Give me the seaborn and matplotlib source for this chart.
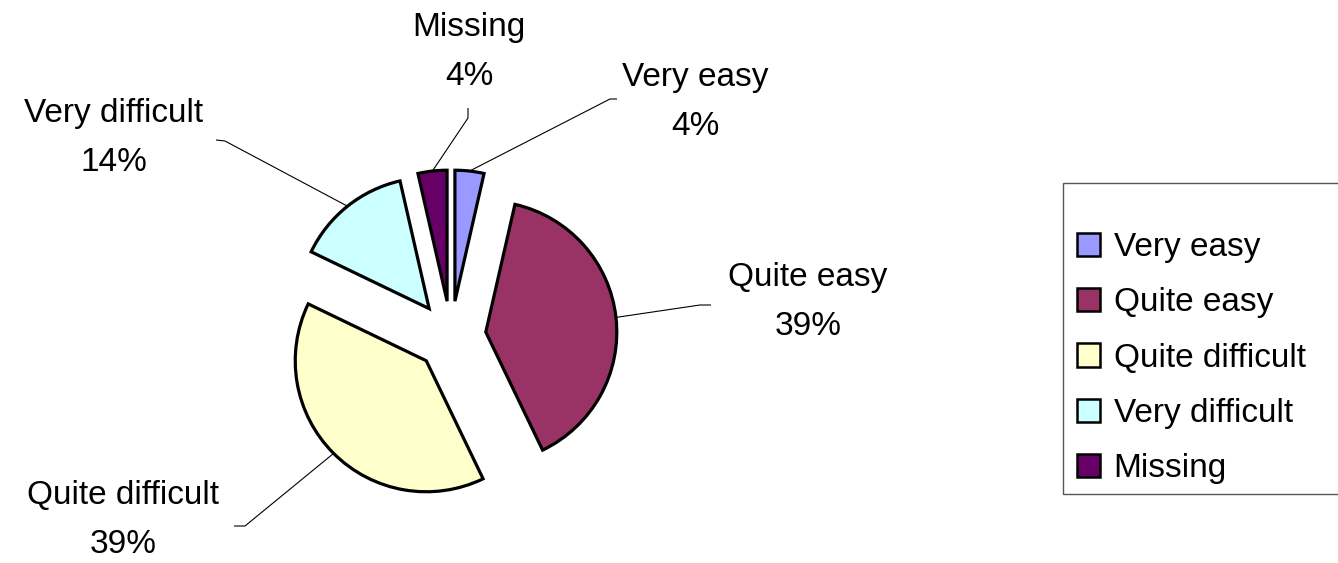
import numpy as np
import matplotlib
matplotlib.use("Agg")
import matplotlib.pyplot as plt
import seaborn as sns
from matplotlib.patches import Patch, Rectangle

# 数据
categories = ["Very easy", "Quite easy", "Quite difficult", "Very difficult", "Missing"]
counts = [2, 22, 22, 8, 2]
colors = ["#9999FF", "#993366", "#FFFFCC", "#CCFFFF", "#660066"]

sns.set_theme(style="white")
plt.rcParams['font.family'] = ['Liberation Sans', 'DejaVu Sans']
plt.rcParams['text.color'] = 'black'

W, H = 1338, 563
fig = plt.figure(figsize=(W / 100, H / 100), dpi=100)
ax = fig.add_axes([0, 0, 1, 1])

# pie in pixel-like data units (y up)
cx, cy, r = 451, H - 336, 131
wedges, _ = ax.pie(counts, colors=colors, center=(cx, cy), radius=r,
                   startangle=90, counterclock=False, explode=[35] * len(counts),
                   wedgeprops=dict(edgecolor="black", linewidth=2.3), frame=True)
ax.set_xlim(0, W)
ax.set_ylim(0, H)
ax.axis("off")

# label layout (pixel coords, y down): text centre, leader elbow, leader end
layout = {
    "Very easy": ((695, 102), (610, 99), (617, 99)),
    "Quite easy": ((808, 302), (700, 305), (711, 305)),
    "Quite difficult": ((123, 520), (245, 526), (234, 526)),
    "Very difficult": ((114, 138), (225, 141), (216, 140)),
    "Missing": ((469, 52), (468, 118), (468, 108)),
}

total = sum(counts)
for w, name, c in zip(wedges, categories, counts):
    (tx, ty), (ex, ey), (kx, ky) = layout[name]
    mid = np.deg2rad((w.theta1 + w.theta2) / 2)
    sx = w.center[0] + w.r * np.cos(mid)
    sy = w.center[1] + w.r * np.sin(mid)
    ax.plot([sx, ex, kx], [sy, H - ey, H - ky], color="black", lw=0.8,
            solid_capstyle="butt")
    ax.text(tx, H - ty, f"{name}\n{round(100 * c / total)}%", ha="center",
            va="center", multialignment="center", fontsize=24,
            linespacing=1.71, color="black")

# legend: frame drawn separately (uneven padding in the original)
fig.patches.append(Rectangle((1063 / W, 1 - 494 / H), 290 / W, 311 / H,
                             transform=fig.transFigure, facecolor="none",
                             edgecolor="#555555", linewidth=1.0))
handles = [Patch(facecolor=col, edgecolor="black", linewidth=1.8, label=lab)
           for col, lab in zip(colors, categories)]
leg = fig.legend(handles=handles, loc="upper left",
                 bbox_to_anchor=(1077 / W, 1 - 232 / H), frameon=False,
                 fontsize=24, handlelength=0.7, handleheight=0.7,
                 handletextpad=0.4, labelspacing=0.73, borderpad=0,
                 borderaxespad=0)
for t in leg.get_texts():
    t.set_color("black")

fig.savefig("out.png", dpi=100)
